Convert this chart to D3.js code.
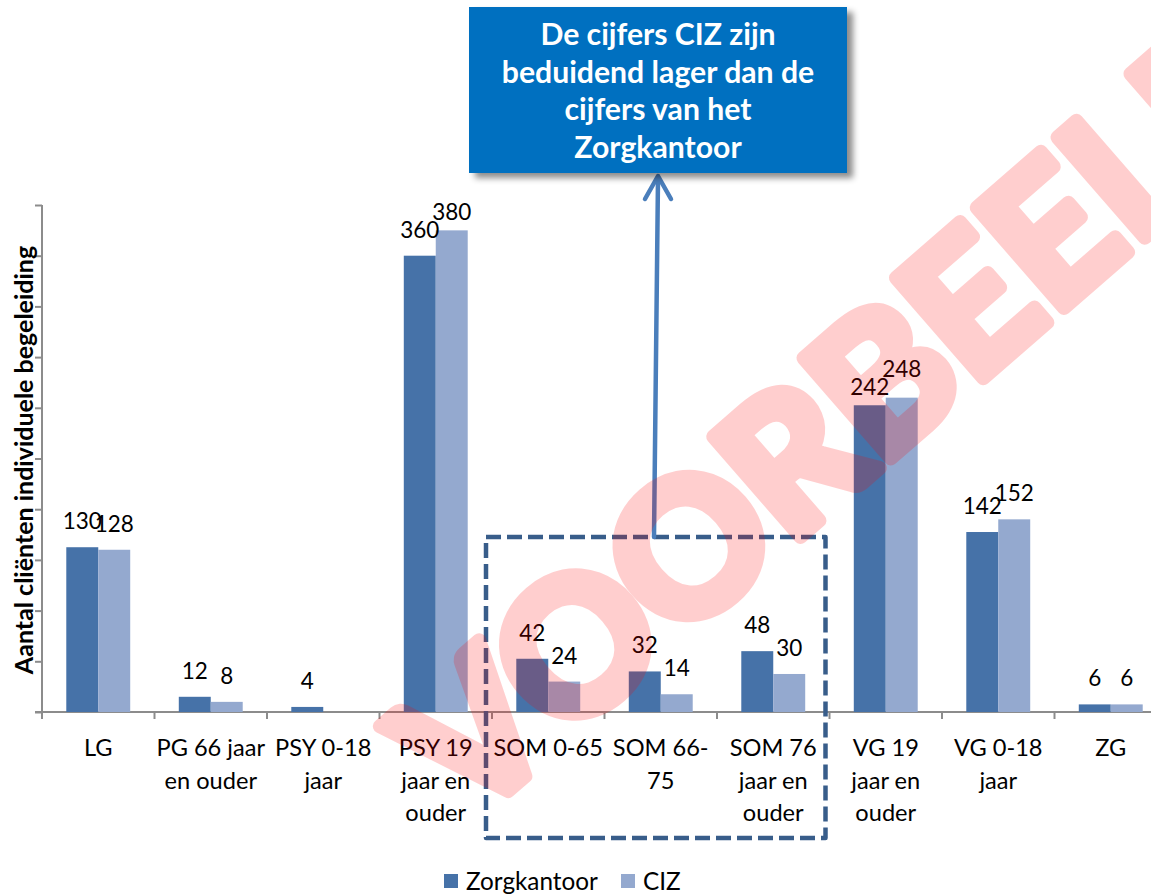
<!DOCTYPE html>
<html>
<head>
<meta charset="utf-8">
<script src="https://cdn.jsdelivr.net/npm/d3@7"></script>
<style>
  body { margin: 0; background: #fff; }
  svg { display: block; font-family: Lato, "Open Sans", sans-serif; }
</style>
</head>
<body>
<div id="chart"></div>
<script>
// data
const categories = ["LG", "PG 66 jaar en ouder", "PSY 0-18 jaar", "PSY 19 jaar en ouder",
  "SOM 0-65", "SOM 66-75", "SOM 76 jaar en ouder", "VG 19 jaar en ouder", "VG 0-18 jaar", "ZG"];
const categoryLines = [["LG"], ["PG 66 jaar", "en ouder"], ["PSY 0-18", "jaar"], ["PSY 19", "jaar en", "ouder"],
  ["SOM 0-65"], ["SOM 66-", "75"], ["SOM 76", "jaar en", "ouder"], ["VG 19", "jaar en", "ouder"], ["VG 0-18", "jaar"], ["ZG"]];
const zorgkantoor = [130, 12, 4, 360, 42, 32, 48, 242, 142, 6];
const ciz = [128, 8, null, 380, 24, 14, 30, 248, 152, 6];
const seriesNames = ["Zorgkantoor", "CIZ"];
const colors = ["#4672a8", "#94a9cf"];
const yTicks = [0, 40, 80, 120, 160, 200, 240, 280, 320, 360, 400];
const yTitle = "Aantal cliënten individuele begeleiding";
const calloutLines = ["De cijfers CIZ zijn", "beduidend lager dan de", "cijfers van het", "Zorgkantoor"];
const watermark = "VOORBEELD";

let width = 1151;
let height = 894;
let plotLeft = 42, plotTop = 205, plotBottom = 712;
let band = 112.5;
// a couple of labels were dragged by hand in the original
let labelNudge = { "VG 19 jaar en ouder|Zorgkantoor": 8, "VG 19 jaar en ouder|CIZ": -3 };

let svg = d3.select("#chart").append("svg")
  .attr("width", width)
  .attr("height", height);

let defs = svg.append("defs");
let shadow = defs.append("filter").attr("id", "shadow")
  .attr("x", "-10%").attr("y", "-10%").attr("width", "130%").attr("height", "140%");
shadow.append("feDropShadow")
  .attr("dx", 6).attr("dy", 5).attr("stdDeviation", 3)
  .attr("flood-color", "#000").attr("flood-opacity", 0.45);

let x0 = d3.scaleBand()
  .domain(categories)
  .range([plotLeft, plotLeft + band * categories.length]);

let x1 = d3.scaleBand()
  .domain(seriesNames)
  .range([0, x0.bandwidth()])
  .paddingOuter(0.76);

let yScale = d3.scaleLinear()
  .domain([0, 400])
  .range([plotBottom, plotTop]);

// y axis without labels
let yAxis = d3.axisLeft(yScale).tickValues(yTicks).tickSize(7).tickFormat("");
let gy = svg.append("g")
  .attr("transform", "translate(" + plotLeft + ",0)")
  .call(yAxis);
gy.select(".domain").attr("d", "M0," + plotTop + "V" + plotBottom);

// x axis: ticks at category boundaries
let gx = svg.append("g").attr("transform", "translate(0," + plotBottom + ")");
gx.append("line")
  .attr("x1", plotLeft - 7).attr("x2", width)
  .attr("y1", 0).attr("y2", 0);
gx.selectAll(".tick")
  .data(categories)
  .enter()
  .append("line")
  .attr("x1", (d) => x0(d)).attr("x2", (d) => x0(d))
  .attr("y1", 0).attr("y2", 7);
svg.selectAll("g line, g path.domain")
  .attr("stroke", "#8c8c8c")
  .attr("stroke-width", 2)
  .attr("fill", "none");

// category labels
let labels = svg.append("g")
  .selectAll("text")
  .data(categories)
  .enter()
  .append("text")
  .attr("text-anchor", "middle")
  .attr("font-size", 23.6)
  .attr("fill", "#000");
labels.each(function (d, i) {
  let t = d3.select(this);
  categoryLines[i].forEach(function (line, j) {
    t.append("tspan")
      .attr("x", x0(d) + x0.bandwidth() / 2)
      .attr("y", 756 + j * 32.5)
      .text(line);
  });
});

// bars
let rows = categories.map(function (c, i) {
  return { category: c, values: [zorgkantoor[i], ciz[i]] };
});

let groups = svg.selectAll(".group")
  .data(rows)
  .enter()
  .append("g")
  .attr("class", "group")
  .attr("transform", (d) => "translate(" + x0(d.category) + ",0)");

let cells = groups.selectAll(".bar")
  .data((d) => d.values
    .map((v, k) => ({ category: d.category, series: seriesNames[k], value: v, k: k }))
    .filter((e) => e.value != null))
  .enter();

cells.append("rect")
  .attr("x", (d) => x1(d.series))
  .attr("width", x1.bandwidth())
  .attr("y", (d) => yScale(d.value))
  .attr("height", (d) => plotBottom - yScale(d.value))
  .attr("fill", (d) => colors[d.k]);

cells.append("text")
  .attr("x", (d) => x1(d.series) + x1.bandwidth() / 2)
  .attr("y", function (d) {
    let nudge = labelNudge[d.category + "|" + d.series] || 0;
    return Math.max(yScale(d.value) - 18, 220) + nudge;
  })
  .attr("text-anchor", "middle")
  .attr("font-size", 22.5)
  .attr("fill", "#000")
  .text((d) => d.value);

// y axis title
svg.append("text")
  .attr("transform", "translate(33,460) rotate(-90)")
  .attr("text-anchor", "middle")
  .attr("font-size", 25)
  .attr("font-weight", "bold")
  .attr("fill", "#000")
  .text(yTitle);

// legend
let legend = svg.append("g");
let legendX = [444, 621];
seriesNames.forEach(function (name, i) {
  legend.append("rect")
    .attr("x", legendX[i]).attr("y", 874)
    .attr("width", 14).attr("height", 14)
    .attr("fill", colors[i]);
  legend.append("text")
    .attr("x", legendX[i] + 22).attr("y", 889.5)
    .attr("font-size", 24.3)
    .attr("fill", "#000")
    .text(name);
});

// dashed highlight box around the SOM categories
let boxLeft = x0("SOM 0-65") - 6;
let boxRight = x0("SOM 76 jaar en ouder") + x0.bandwidth() - 4;
svg.append("rect")
  .attr("x", boxLeft).attr("y", 537)
  .attr("width", boxRight - boxLeft).attr("height", 301)
  .attr("fill", "none")
  .attr("stroke", "#385d8a")
  .attr("stroke-width", 4.5)
  .attr("stroke-dasharray", "15,6")
  .attr("stroke-linejoin", "round");

// arrow from the box to the callout
let arrow = svg.append("g")
  .attr("stroke", "#4a7ebb")
  .attr("stroke-width", 4.5)
  .attr("fill", "none")
  .attr("stroke-linecap", "round")
  .attr("stroke-linejoin", "round");
arrow.append("line")
  .attr("x1", 654).attr("y1", 537)
  .attr("x2", 658).attr("y2", 178);
arrow.append("polyline")
  .attr("points", "645,199 658,176 671,199");

// callout box
svg.append("rect")
  .attr("x", 469).attr("y", 7)
  .attr("width", 378).attr("height", 166)
  .attr("fill", "#0070c0")
  .attr("filter", "url(#shadow)");
svg.append("text")
  .attr("text-anchor", "middle")
  .attr("font-size", 30.2)
  .attr("font-weight", "bold")
  .attr("fill", "#fff")
  .selectAll("tspan")
  .data(calloutLines)
  .enter()
  .append("tspan")
  .attr("x", 658)
  .attr("y", (d, i) => 45 + i * 37.5)
  .text((d) => d);

// watermark on top
svg.append("g")
  .attr("opacity", 0.19)
  .append("text")
  .attr("transform", "translate(468,826) rotate(-41)")
  .attr("font-size", 184)
  .attr("font-weight", "bold")
  .attr("fill", "#ff0000")
  .attr("stroke", "#ff0000")
  .attr("stroke-width", 14)
  .attr("stroke-linejoin", "round")
  .attr("textLength", 1120)
  .attr("lengthAdjust", "spacingAndGlyphs")
  .text(watermark);
</script>
</body>
</html>
